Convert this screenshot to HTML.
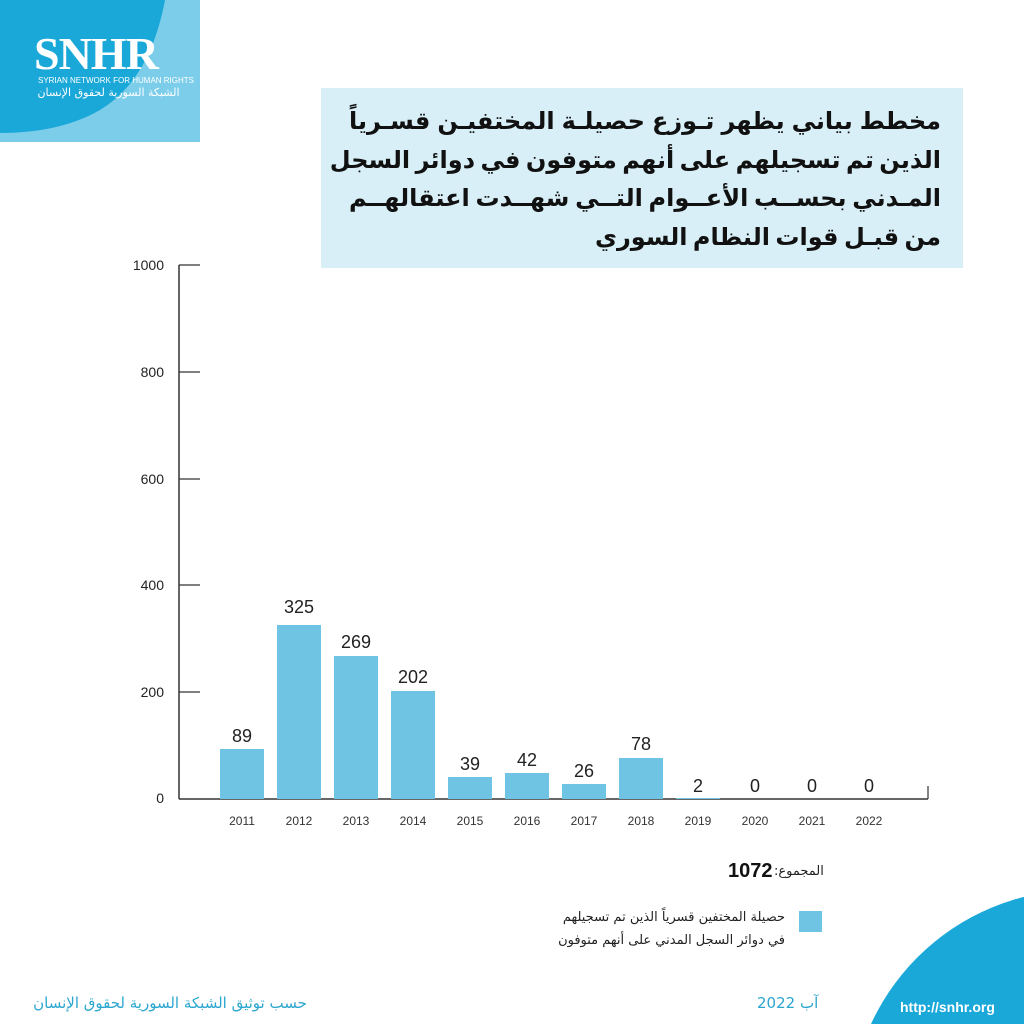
<!DOCTYPE html>
<html><head><meta charset="utf-8"><style>
*{margin:0;padding:0;box-sizing:border-box}
html,body{width:1024px;height:1024px;overflow:hidden}
body{background:#fff;position:relative;font-family:"Liberation Sans","Noto Sans CJK SC",sans-serif;color:#222}
.abs{position:absolute}
.title{left:321px;top:88px;width:642px;height:180px;background:#d8eff7;padding:12px 22px 0 28px;direction:rtl;font-family:"Noto Sans CJK SC","DejaVu Sans",sans-serif;font-weight:bold;font-size:24px;color:#111;overflow:hidden}
.title div{height:38.5px;line-height:38.5px;text-align:justify;text-align-last:justify;white-space:nowrap}
.title div.last{text-align-last:right}
.yl{position:absolute;width:60px;text-align:right;font-size:14px;line-height:16px;color:#222}
.xl{position:absolute;width:50px;text-align:center;font-size:12px;line-height:14px;color:#333}
.vl{position:absolute;width:60px;text-align:center;font-size:18px;line-height:20px;color:#222}
.bar{position:absolute;background:#6ec4e2;width:44px}
</style></head><body>
<svg class="abs" style="left:0;top:0" width="210" height="150">
<rect x="0" y="0" width="200" height="142" fill="#7ccdea"/>
<path d="M0,0 L165,0 Q150,80 100,110 Q60,133 0,133 Z" fill="#1aa8d9"/>
</svg>
<div class="abs" style="left:34px;top:30px;font-family:'Liberation Serif',serif;font-weight:bold;font-size:46px;line-height:48px;color:#fff;letter-spacing:-1px">SNHR</div>
<div class="abs" style="left:38px;top:76px;font-size:8px;line-height:10px;color:#fff;white-space:nowrap">SYRIAN NETWORK FOR HUMAN RIGHTS</div>
<div class="abs" style="left:36px;top:86px;width:145px;font-size:11px;line-height:14px;color:#fff;direction:rtl;text-align:center;font-family:'DejaVu Sans',sans-serif;white-space:nowrap">الشبكة السورية لحقوق الإنسان</div>

<div class="abs title">
<div>مخطط بياني يظهر تـوزع حصيلـة المختفيـن قسـرياً</div>
<div>الذين تم تسجيلهم على أنهم متوفون في دوائر السجل</div>
<div>المـدني بحســب الأعــوام التــي شهــدت اعتقالهــم</div>
<div class="last">من قبـل قوات النظام السوري</div>
</div>

<svg class="abs" style="left:0;top:0" width="1024" height="1024">
<line x1="179" y1="265" x2="179" y2="799" stroke="#333" stroke-width="1.5"/>
<line x1="179" y1="799" x2="928" y2="799" stroke="#333" stroke-width="1.5"/>
<line x1="928" y1="786" x2="928" y2="799" stroke="#333" stroke-width="1.2"/>
<g stroke="#333" stroke-width="1.2">
<line x1="179" y1="265" x2="200" y2="265"/><line x1="179" y1="372" x2="200" y2="372"/>
<line x1="179" y1="479" x2="200" y2="479"/><line x1="179" y1="585" x2="200" y2="585"/>
<line x1="179" y1="692" x2="200" y2="692"/>
</g>
<circle cx="1080" cy="1120" r="230" fill="#1aa8d9"/>
</svg>
<div class="yl" style="left:104px;top:257px">1000</div>
<div class="yl" style="left:104px;top:364px">800</div>
<div class="yl" style="left:104px;top:471px">600</div>
<div class="yl" style="left:104px;top:577px">400</div>
<div class="yl" style="left:104px;top:684px">200</div>
<div class="yl" style="left:104px;top:790px">0</div>

<div class="bar" style="left:220px;top:749px;height:50px"></div>
<div class="bar" style="left:277px;top:625px;height:174px"></div>
<div class="bar" style="left:334px;top:656px;height:143px"></div>
<div class="bar" style="left:391px;top:691px;height:108px"></div>
<div class="bar" style="left:448px;top:777px;height:22px"></div>
<div class="bar" style="left:505px;top:773px;height:26px"></div>
<div class="bar" style="left:562px;top:784px;height:15px"></div>
<div class="bar" style="left:619px;top:758px;height:41px"></div>
<div class="bar" style="left:676px;top:798px;height:1px"></div>

<div class="vl" style="left:212px;top:726px">89</div>
<div class="vl" style="left:269px;top:597px">325</div>
<div class="vl" style="left:326px;top:632px">269</div>
<div class="vl" style="left:383px;top:667px">202</div>
<div class="vl" style="left:440px;top:754px">39</div>
<div class="vl" style="left:497px;top:750px">42</div>
<div class="vl" style="left:554px;top:761px">26</div>
<div class="vl" style="left:611px;top:734px">78</div>
<div class="vl" style="left:668px;top:776px">2</div>
<div class="vl" style="left:725px;top:776px">0</div>
<div class="vl" style="left:782px;top:776px">0</div>
<div class="vl" style="left:839px;top:776px">0</div>

<div class="xl" style="left:217px;top:814px">2011</div>
<div class="xl" style="left:274px;top:814px">2012</div>
<div class="xl" style="left:331px;top:814px">2013</div>
<div class="xl" style="left:388px;top:814px">2014</div>
<div class="xl" style="left:445px;top:814px">2015</div>
<div class="xl" style="left:502px;top:814px">2016</div>
<div class="xl" style="left:559px;top:814px">2017</div>
<div class="xl" style="left:616px;top:814px">2018</div>
<div class="xl" style="left:673px;top:814px">2019</div>
<div class="xl" style="left:730px;top:814px">2020</div>
<div class="xl" style="left:787px;top:814px">2021</div>
<div class="xl" style="left:844px;top:814px">2022</div>

<div class="abs" style="left:728px;top:860px;font-size:20px;line-height:22px;font-weight:bold;color:#111">1072</div>
<div class="abs" style="left:774px;top:864px;font-size:13px;line-height:15px;font-family:'DejaVu Sans',sans-serif;direction:rtl">المجموع:</div>

<div class="abs" style="left:799px;top:911px;width:23px;height:21px;background:#6ec4e2"></div>
<div class="abs" style="left:540px;top:906px;width:245px;direction:rtl;text-align:right;font-size:13px;line-height:23px;font-family:'DejaVu Sans',sans-serif;color:#222">حصيلة المختفين قسرياً الذين تم تسجيلهم<br>في دوائر السجل المدني على أنهم متوفون</div>

<div class="abs" style="left:900px;top:999px;font-size:14px;line-height:16px;font-weight:bold;color:#fff">http://snhr.org</div>
<div class="abs" style="left:757px;top:995px;font-size:15px;line-height:17px;color:#2aa6cf;font-family:'DejaVu Sans',sans-serif;direction:rtl">آب 2022</div>
<div class="abs" style="left:20px;top:995px;width:300px;font-size:15px;line-height:17px;color:#2aa6cf;font-family:'DejaVu Sans',sans-serif;direction:rtl;text-align:center">حسب توثيق الشبكة السورية لحقوق الإنسان</div>
</body></html>
